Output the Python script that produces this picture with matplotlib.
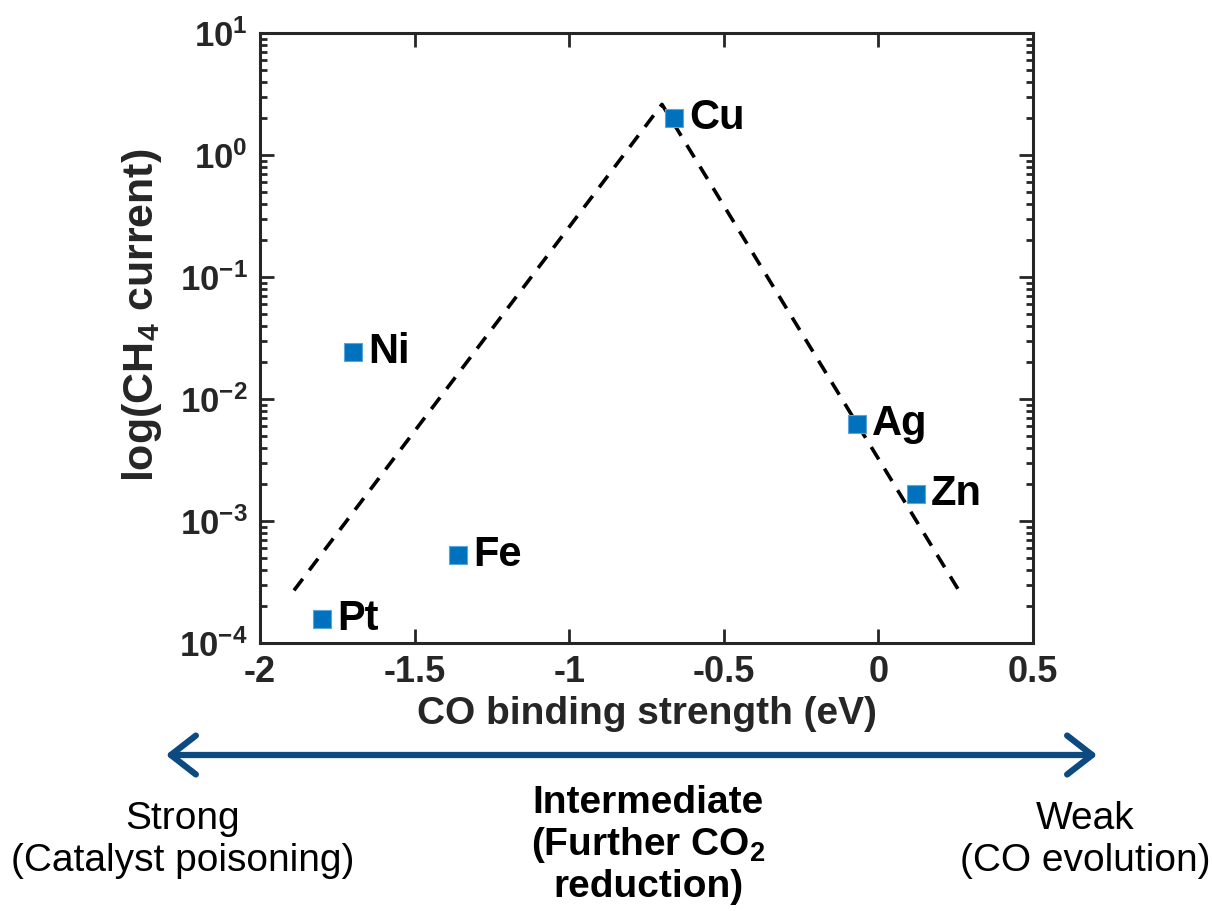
import matplotlib
matplotlib.use("Agg")
import matplotlib.pyplot as plt
import numpy as np

metals = ["Cu", "Ni", "Fe", "Pt", "Ag", "Zn"]
binding = [-0.66, -1.70, -1.36, -1.80, -0.07, 0.12]
ch4_current = [2.0, 0.0243, 5.3e-4, 1.57e-4, 6.2e-3, 1.66e-3]

trend_x = [-1.89, -0.70, 0.26]
trend_y = [2.7e-4, 2.6, 2.7e-4]

xticks = [-2, -1.5, -1, -0.5, 0, 0.5]
xticklabels = ["-2", "-1.5", "-1", "-0.5", "0", "0.5"]
yticks = [1e-4, 1e-3, 1e-2, 1e-1, 1e0, 1e1]
yticklabels = ["$\\mathbf{10^{-4}}$", "$\\mathbf{10^{-3}}$", "$\\mathbf{10^{-2}}$",
               "$\\mathbf{10^{-1}}$", "$\\mathbf{10^{0}}$", "$\\mathbf{10^{1}}$"]

plt.rcParams['font.family'] = ['Liberation Sans', 'DejaVu Sans']
plt.rcParams['mathtext.fontset'] = 'custom'
plt.rcParams['mathtext.rm'] = 'Liberation Sans'
plt.rcParams['mathtext.bf'] = 'Liberation Sans:bold'
plt.rcParams['mathtext.it'] = 'Liberation Sans:italic'

fig = plt.figure(figsize=(12.12, 9.11), dpi=100)
W, H = 1212, 911
ax = fig.add_axes([260 / W, 1 - 643 / H, (1033 - 260) / W, (643 - 33) / H])

dark = "#262626"
ax.plot(trend_x, trend_y, linestyle=(0, (4, 3.0)), color="black", lw=2.6, zorder=2)
ax.scatter(binding, ch4_current, marker="s", s=180, color="#0072BD",
           edgecolors="#5aa5dd", linewidths=0.8, zorder=3)
for m, x, y in zip(metals, binding, ch4_current):
    ax.annotate(m, (x, y), xytext=(11, 0), textcoords="offset points",
                ha="left", va="center", fontsize=30, fontweight="bold", color="black")

ax.set_yscale("log")
ax.set_xlim(-2, 0.5)
ax.set_ylim(1e-4, 1e1)
ax.set_xticks(xticks)
ax.set_xticklabels(xticklabels)
ax.set_yticks(yticks)
ax.set_yticklabels(yticklabels)
ax.yaxis.set_minor_locator(matplotlib.ticker.LogLocator(base=10, subs=np.arange(2, 10)))
ax.yaxis.set_minor_formatter(matplotlib.ticker.NullFormatter())
ax.tick_params(axis="both", which="both", direction="in", top=True, right=True,
               colors=dark, width=2)
ax.tick_params(axis="both", which="major", length=10, labelsize=25, pad=9)
ax.tick_params(axis="x", which="major", labelsize=26)
ax.tick_params(axis="y", which="minor", length=5)
for lab in ax.get_xticklabels():
    lab.set_fontweight("bold")
for sp in ax.spines.values():
    sp.set_linewidth(2.2)
    sp.set_color(dark)

ax.set_xlabel("CO binding strength (eV)", fontsize=28, fontweight="bold", color=dark, labelpad=4)
ax.set_ylabel("$\\mathbf{log(CH_4\\ current)}$", fontsize=31, color=dark)
ax.yaxis.set_label_coords((164 - 260) / 773, (643 - 315) / 610)

# double-headed arrow below the axes
fig.add_artist(matplotlib.patches.FancyArrowPatch(
    (163 / W, 1 - 755 / H), (1100 / W, 1 - 755 / H), transform=fig.transFigure,
    arrowstyle="<->,head_length=0.9,head_width=0.7", color="#0d4a80", lw=4.5,
    mutation_scale=20, capstyle="round", joinstyle="round"))

fig.text(183 / W, 1 - 840 / H, "Strong\n(Catalyst poisoning)", ha="center", va="center",
         fontsize=28, linespacing=1.2)
fig.text(1085 / W, 1 - 840 / H, "Weak\n(CO evolution)", ha="center", va="center",
         fontsize=28, linespacing=1.2)
fig.text(648 / W, 1 - 845 / H, "Intermediate\n(Further CO$_\\mathbf{2}$\nreduction)", ha="center",
         va="center", fontsize=28, fontweight="bold", linespacing=1.15)

fig.savefig("out.png", dpi=100)
